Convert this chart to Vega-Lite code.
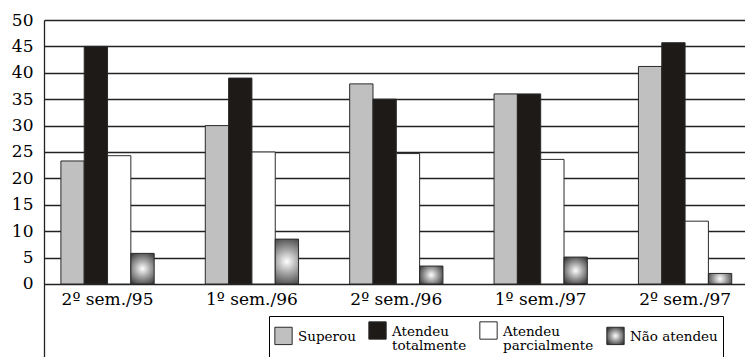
{
  "$schema": "https://vega.github.io/schema/vega-lite/v6.json",
  "autosize": {"type": "none"},
  "padding": {"left": 44, "top": 20, "right": 0, "bottom": 0},
  "width": 701,
  "height": 337,
  "background": "#ffffff",
  "config": {
    "view": {"stroke": null},
    "font": "DejaVu Serif"
  },
  "data": {
    "values": [
      {"periodo": "2º sem./95", "serie": "Superou", "valor": 23.3},
      {"periodo": "2º sem./95", "serie": "Atendeu totalmente", "valor": 45},
      {"periodo": "2º sem./95", "serie": "Atendeu parcialmente", "valor": 24.3},
      {"periodo": "2º sem./95", "serie": "Não atendeu", "valor": 5.8},
      {"periodo": "1º sem./96", "serie": "Superou", "valor": 30},
      {"periodo": "1º sem./96", "serie": "Atendeu totalmente", "valor": 39},
      {"periodo": "1º sem./96", "serie": "Atendeu parcialmente", "valor": 25},
      {"periodo": "1º sem./96", "serie": "Não atendeu", "valor": 8.5},
      {"periodo": "2º sem./96", "serie": "Superou", "valor": 37.9},
      {"periodo": "2º sem./96", "serie": "Atendeu totalmente", "valor": 35},
      {"periodo": "2º sem./96", "serie": "Atendeu parcialmente", "valor": 24.7},
      {"periodo": "2º sem./96", "serie": "Não atendeu", "valor": 3.4},
      {"periodo": "1º sem./97", "serie": "Superou", "valor": 36},
      {"periodo": "1º sem./97", "serie": "Atendeu totalmente", "valor": 36},
      {"periodo": "1º sem./97", "serie": "Atendeu parcialmente", "valor": 23.6},
      {"periodo": "1º sem./97", "serie": "Não atendeu", "valor": 5.1},
      {"periodo": "2º sem./97", "serie": "Superou", "valor": 41.2},
      {"periodo": "2º sem./97", "serie": "Atendeu totalmente", "valor": 45.7},
      {"periodo": "2º sem./97", "serie": "Atendeu parcialmente", "valor": 11.9},
      {"periodo": "2º sem./97", "serie": "Não atendeu", "valor": 2.0}
    ]
  },
  "encoding": {
    "x": {
      "field": "periodo",
      "type": "nominal",
      "sort": null,
      "scale": {"paddingInner": 0.354, "paddingOuter": 0.1045, "align": 0.56},
      "axis": {
        "title": null,
        "orient": "bottom",
        "offset": -73,
        "domain": false,
        "ticks": false,
        "labelAngle": 0,
        "labelFont": "DejaVu Serif",
        "labelFontSize": 17,
        "labelColor": "#000000",
        "labelPadding": 7
      }
    },
    "xOffset": {
      "field": "serie",
      "type": "nominal",
      "sort": ["Superou", "Atendeu totalmente", "Atendeu parcialmente", "Não atendeu"],
      "scale": {"paddingInner": 0, "paddingOuter": 0}
    },
    "y": {
      "field": "valor",
      "type": "quantitative",
      "scale": {"domain": [-13.826, 50], "nice": false, "zero": false},
      "axis": {
        "title": null,
        "values": [0, 5, 10, 15, 20, 25, 30, 35, 40, 45, 50],
        "grid": true,
        "gridColor": "#222222",
        "gridWidth": 1.3,
        "gridOpacity": 1,
        "domain": true,
        "domainColor": "#222222",
        "domainWidth": 1.3,
        "ticks": false,
        "labelFont": "DejaVu Serif",
        "labelFontSize": 17,
        "labelColor": "#000000",
        "labelPadding": 11
      }
    }
  },
  "layer": [
    {
      "mark": {"type": "bar", "stroke": "#2a2a2a", "strokeWidth": 1},
      "encoding": {
        "color": {
          "field": "serie",
          "type": "nominal",
          "scale": {
            "domain": ["Superou", "Atendeu totalmente", "Atendeu parcialmente", "Não atendeu"],
            "range": ["#c0c0c0", "#1e1a18", "#ffffff", {"expr": "{gradient: 'radial', x1: 0.5, y1: 0.5, r1: 0, x2: 0.5, y2: 0.5, r2: 0.62, stops: [{offset: 0, color: '#ffffff'}, {offset: 0.45, color: '#a0a0a0'}, {offset: 1, color: '#333333'}]}"}]
          },
          "legend": {
            "title": null,
            "orient": "none",
            "legendX": 225,
            "legendY": 296,
            "direction": "horizontal",
            "strokeColor": "#000000",
            "padding": 5,
            "symbolType": "square",
            "symbolSize": 300,
            "symbolStrokeColor": "#2a2a2a",
            "symbolStrokeWidth": 1,
            "symbolOpacity": 1,
            "labelFont": "DejaVu Serif",
            "labelFontSize": 13.5,
            "labelColor": "#000000",
            "labelBaseline": "alphabetic",
            "labelOffset": 5,
            "labelLimit": 200,
            "columnPadding": 10,
            "labelExpr": "datum.label == 'Atendeu totalmente' || datum.label == 'Atendeu parcialmente' ? split(datum.label, ' ') : datum.label",
            "encode": {
              "symbols": {
                "update": {
                  "stroke": {"value": "#2a2a2a"},
                  "strokeWidth": {"value": 1}
                }
              },
              "labels": {
                "update": {
                  "dy": {"value": 5},
                  "lineHeight": {"value": 14}
                }
              }
            }
          }
        }
      }
    }
  ]
}
